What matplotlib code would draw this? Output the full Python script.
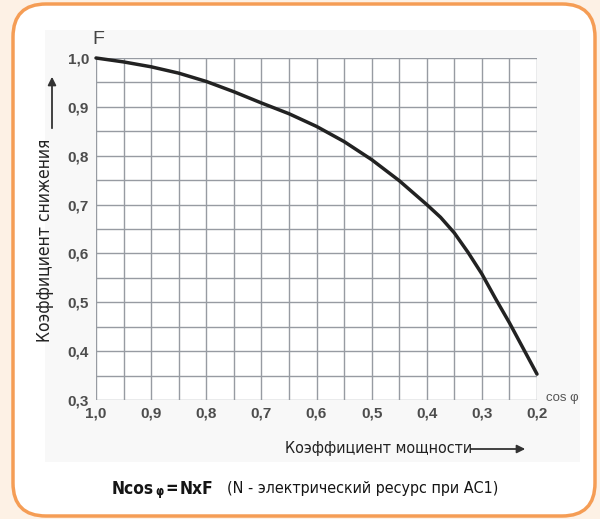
import matplotlib
matplotlib.use("Agg")
import matplotlib.pyplot as plt
from matplotlib.patches import FancyBboxPatch, Rectangle
from matplotlib import font_manager
import numpy as np

# Data
cos_phi = [1.0, 0.95, 0.9, 0.85, 0.8, 0.75, 0.7, 0.65, 0.6, 0.55, 0.5, 0.45, 0.4, 0.375, 0.35,
           0.325, 0.3, 0.275, 0.25, 0.2]
factor_F = [1.0, 0.992, 0.982, 0.969, 0.952, 0.931, 0.908, 0.886, 0.860, 0.829, 0.792, 0.749, 0.700,
            0.674, 0.642, 0.602, 0.558, 0.507, 0.458, 0.353]
x_ticks = [1.0, 0.9, 0.8, 0.7, 0.6, 0.5, 0.4, 0.3, 0.2]
y_ticks = [0.3, 0.4, 0.5, 0.6, 0.7, 0.8, 0.9, 1.0]

avail = {f.name for f in font_manager.fontManager.ttflist}
ARIAL = 'Liberation Sans' if 'Liberation Sans' in avail else 'DejaVu Sans'
NARROW_KW = dict(family='DejaVu Sans', fontstretch='condensed')

W, H = 600, 519
fig = plt.figure(figsize=(W / 100, H / 100), dpi=100)
fig.patch.set_facecolor('#fdf1e5')

def fx(px):
    return px / W

def fy(py):
    return 1 - py / H

# White rounded box with orange border
box = FancyBboxPatch((fx(13), fy(516)), fx(595) - fx(13), fy(4) - fy(516),
                     boxstyle="round,pad=0,rounding_size=0.055",
                     transform=fig.transFigure, facecolor='white',
                     edgecolor='#f59d55', linewidth=2.5, mutation_aspect=W / H, zorder=-10)
fig.patches.append(box)
# light gray inner panel
panel = Rectangle((fx(45), fy(462)), fx(580) - fx(45), fy(30) - fy(462),
                  transform=fig.transFigure, facecolor='#f8f8f8', edgecolor='none', zorder=-9)
fig.patches.append(panel)

ax = fig.add_axes([fx(96), fy(400), fx(537) - fx(96), fy(58) - fy(400)])
ax.set_facecolor('white')
ax.set_xlim(1.0, 0.2)
ax.set_ylim(0.3, 1.0)

grid_c = '#979ba2'
for v in np.arange(0.2, 1.0001, 0.05):
    ax.axvline(v, color=grid_c, lw=1.0, zorder=1)
for v in np.arange(0.3, 1.0001, 0.05):
    ax.axhline(v, color=grid_c, lw=1.0, zorder=1)
for s in ax.spines.values():
    s.set_visible(False)

ax.plot(cos_phi, factor_F, color='#222222', lw=2.5, solid_capstyle='round',
        solid_joinstyle='round', zorder=3, clip_on=False)

ax.set_xticks(x_ticks)
ax.set_yticks(y_ticks)
ax.set_xticklabels([f"{v:.1f}".replace('.', ',') for v in x_ticks])
ax.set_yticklabels([f"{v:.1f}".replace('.', ',') for v in y_ticks])
ax.tick_params(length=0, labelsize=11, labelcolor='#4d4d4d')
ax.tick_params(axis='x', pad=5)
ax.tick_params(axis='y', pad=5)
for lab in ax.get_xticklabels() + ax.get_yticklabels():
    lab.set_fontfamily(ARIAL)
    lab.set_fontweight('bold')

# Axis annotations
fig.text(fx(98), fy(40), 'F', family=ARIAL, fontsize=14, color='#444444', ha='center', va='center')
fig.text(fx(562), fy(398), 'cos φ', family=ARIAL, fontsize=9.5, color='#555555', ha='center', va='center')

fig.text(fx(45), fy(240), 'Коэффициент снижения', fontsize=12.5, color='#222222',
         rotation=90, ha='center', va='center', **NARROW_KW)
ax.annotate('', xy=(fx(52), fy(74)), xytext=(fx(52), fy(131)), xycoords='figure fraction',
            arrowprops=dict(arrowstyle='-|>', color='#333333', lw=1.3, mutation_scale=12))

fig.text(fx(285), fy(448), 'Коэффициент мощности', fontsize=11.5, color='#222222',
         ha='left', va='center', **NARROW_KW)
ax.annotate('', xy=(fx(528), fy(449)), xytext=(fx(468), fy(449)), xycoords='figure fraction',
            arrowprops=dict(arrowstyle='-|>', color='#333333', lw=1.3, mutation_scale=12))

# Formula line, pieces placed one after another
renderer = fig.canvas.get_renderer()
pieces = [('Ncos', 12.5, 'bold', 0, 0), ('φ', 8.5, 'bold', 3, 1), ('=', 12, 'bold', 0, 2),
          ('NxF', 12.5, 'bold', 0, 2), ('(N - электрический ресурс при АС1)', 11.5, 'normal', 0, 13)]
x = 112
for txt, size, weight, dy, gap in pieces:
    x += gap
    t = fig.text(fx(x), fy(489 + dy), txt, fontsize=size, fontweight=weight, color='#151515',
                 ha='left', va='center', **NARROW_KW)
    bb = t.get_window_extent(renderer)
    x += bb.width

fig.savefig('out.png', dpi=100, facecolor=fig.get_facecolor())
